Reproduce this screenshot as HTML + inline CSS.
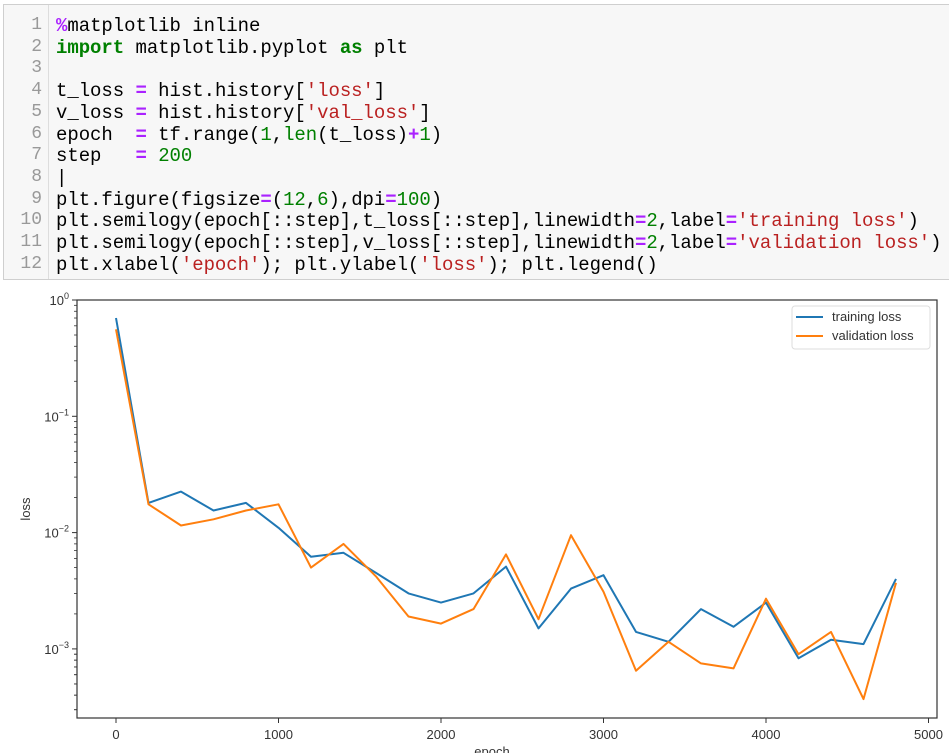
<!DOCTYPE html>
<html><head><meta charset="utf-8">
<style>
body{margin:0;width:949px;height:753px;background:#fff;overflow:hidden;position:relative;font-family:"Liberation Sans",sans-serif}
#code{position:absolute;left:3px;top:4px;width:960px;height:276px;background:#f7f7f7;border:1px solid #cfcfcf;box-sizing:border-box}
#gutter{position:absolute;left:0;top:0;width:44px;height:100%;border-right:1px solid #ddd;background:#f7f7f7}
.ln{position:absolute;right:6px;color:#999;font:18px "Liberation Mono",monospace}
.cl{position:absolute;left:52px;font:19px "Liberation Mono",monospace;white-space:pre;color:#000;letter-spacing:-0.05px}
.k{color:#008000;font-weight:bold}.s{color:#ba2121}.n{color:#008000}.o{color:#aa22ff;font-weight:bold}
svg{position:absolute;left:0;top:0}
</style></head><body>
<div id="code">
<div id="gutter"></div>
</div>
<svg id="chart" width="949" height="753"></svg>
<script>
const lines=[
'<span class="o">%</span>matplotlib inline',
'<span class="k">import</span> matplotlib.pyplot <span class="k">as</span> plt',
'',
't_loss <span class="o">=</span> hist.history[<span class="s">\'loss\'</span>]',
'v_loss <span class="o">=</span> hist.history[<span class="s">\'val_loss\'</span>]',
'epoch  <span class="o">=</span> tf.range(<span class="n">1</span>,<span class="n">len</span>(t_loss)<span class="o">+</span><span class="n">1</span>)',
'step   <span class="o">=</span> <span class="n">200</span>',
'|',
'plt.figure(figsize<span class="o">=</span>(<span class="n">12</span>,<span class="n">6</span>),dpi<span class="o">=</span><span class="n">100</span>)',
'plt.semilogy(epoch[::step],t_loss[::step],linewidth<span class="o">=</span><span class="n">2</span>,label<span class="o">=</span><span class="s">\'training loss\'</span>)',
'plt.semilogy(epoch[::step],v_loss[::step],linewidth<span class="o">=</span><span class="n">2</span>,label<span class="o">=</span><span class="s">\'validation loss\'</span>)',
'plt.xlabel(<span class="s">\'epoch\'</span>); plt.ylabel(<span class="s">\'loss\'</span>); plt.legend()'];
const code=document.getElementById('code'),gut=document.getElementById('gutter');
lines.forEach((l,i)=>{
 const y=10+i*21.7;
 const n=document.createElement('div');n.className='ln';n.style.top=y+'px';n.textContent=i+1;
 
 
 gut.appendChild(n);
 const d=document.createElement('div');d.className='cl';d.style.top=y+'px';d.innerHTML=l;
 
 
 code.appendChild(d);
});

const epochs=[0,200,400,600,800,1000,1200,1400,1600,1800,2000,2200,2400,2600,2800,3000,3200,3400,3600,3800,4000,4200,4400,4600,4800];
const trainLoss=[0.7,0.018,0.0225,0.0155,0.018,0.011,0.0062,0.0067,0.0045,0.003,0.0025,0.003,0.0051,0.0015,0.0033,0.0043,0.0014,0.00115,0.0022,0.00155,0.0025,0.00083,0.0012,0.0011,0.004];
const valLoss=[0.56,0.0175,0.0115,0.013,0.0155,0.0175,0.005,0.008,0.0042,0.0019,0.00165,0.0022,0.0065,0.0018,0.0095,0.0031,0.00065,0.00115,0.00075,0.00068,0.0027,0.0009,0.0014,0.00037,0.0037];
const xTicks=[0,1000,2000,3000,4000,5000];
const yDecades=[0,-1,-2,-3];

const L=77,R=937,T=300,B=718;
const X=v=>116+v*0.1625;
const Y=v=>300-Math.log10(v)*116.3;
const svg=document.getElementById('chart');const NS='http://www.w3.org/2000/svg';
function mk(t,a,txt){const e=document.createElementNS(NS,t);for(const k in a)e.setAttribute(k,a[k]);if(txt!==undefined)e.textContent=txt;svg.appendChild(e);return e;}
let e=mk('rect',{x:L,y:T,width:R-L,height:B-T,fill:'none',stroke:'#333','stroke-width':1.2});


xTicks.forEach(t=>{
 e=mk('line',{x1:X(t),x2:X(t),y1:B,y2:B+5,stroke:'#333'});
 
 
 e=mk('text',{x:X(t),y:B+21,'text-anchor':'middle','font-size':13,fill:'#333'},t);
 
 
});
yDecades.forEach(d=>{
 const y=Y(Math.pow(10,d));
 e=mk('line',{x1:L-5,x2:L,y1:y,y2:y,stroke:'#333'});
 
 
 e=mk('text',{x:L-8,y:y+5,'text-anchor':'end','font-size':13,fill:'#333'});
 
 
 e.innerHTML='10<tspan dy="-6" font-size="9">'+(d<0?'\u2212'+(-d):d)+'</tspan>';
 for(let m=2;m<=9;m++){const v=m*Math.pow(10,d-1);const yy=Y(v);if(yy<=B&&yy>=T){
  e=mk('line',{x1:L-3,x2:L,y1:yy,y2:yy,stroke:'#333','stroke-width':0.8});
  
  }}
});
for(let m=3;m<=9;m++){const yy=Y(m*1e-4);if(yy<=B){e=mk('line',{x1:L-3,x2:L,y1:yy,y2:yy,stroke:'#333','stroke-width':0.8});
 
 }}
e=mk('text',{x:(L+R)/2-15,y:756,'text-anchor':'middle','font-size':13,fill:'#333'},'epoch');


e=mk('text',{x:30,y:(T+B)/2,'text-anchor':'middle','font-size':13,fill:'#333',transform:'rotate(-90 30 '+((T+B)/2)+')'},'loss');


function series(vals,col,name){
 const p=epochs.map((x,i)=>X(x).toFixed(1)+','+Y(vals[i]).toFixed(1)).join(' ');
 const s=mk('polyline',{points:p,fill:'none',stroke:col,'stroke-width':2,'stroke-linejoin':'round'});
 
 
}
series(trainLoss,'#1f77b4','training-loss-line');
series(valLoss,'#ff7f0e','validation-loss-line');
e=mk('rect',{x:792,y:306,width:138,height:43,rx:3,fill:'#fff',stroke:'#ddd'});


[['training loss','#1f77b4',317],['validation loss','#ff7f0e',336]].forEach(([t,c,y])=>{
 e=mk('line',{x1:796,x2:823,y1:y,y2:y,stroke:c,'stroke-width':2});
 
 
 e=mk('text',{x:832,y:y+4,'font-size':13,fill:'#333'},t);
 
 
});
</script>
</body></html>
